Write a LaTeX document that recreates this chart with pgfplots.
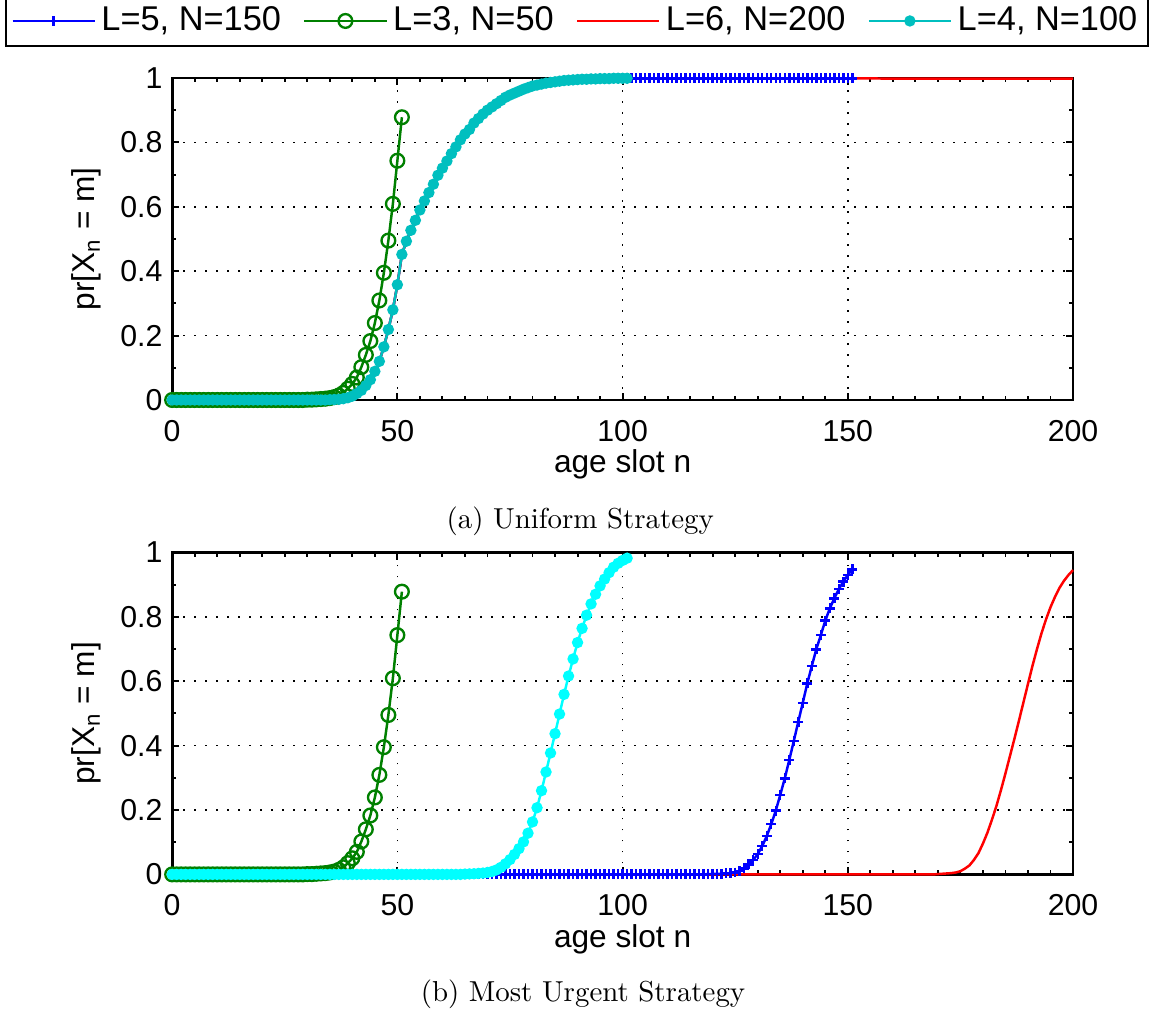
\documentclass[border=0pt]{standalone}
\usepackage{fontspec}
\setmainfont{Liberation Sans}
\newfontfamily\lmroman{Latin Modern Roman}
\usepackage{pgfplots}
\usepackage{pgfplotstable}
\pgfplotsset{compat=1.18}
\definecolor{mblue}{rgb}{0,0,1}
\definecolor{mgreen}{rgb}{0,0.5,0}
\definecolor{mred}{rgb}{1,0,0}
\definecolor{mteal}{rgb}{0,0.75,0.75}
\definecolor{mcyan}{rgb}{0,1,1}

% Uniform strategy, L>=4 curve (L=4,5,6 coincide)
\pgfplotstableread[row sep=\\]{
n p\\
0 0\\1 0\\2 0\\3 0\\4 0\\5 0\\6 0\\7 0\\8 0\\9 0\\10 0\\11 0\\12 0\\13 0\\14 0\\15 0\\16 0\\17 0\\18 0\\19 0\\20 0\\
21 0\\22 0\\23 0\\24 0\\25 0\\26 0\\27 0\\28 0\\29 0\\30 0\\31 0\\32 0\\33 0\\34 0\\35 0.001\\36 0.0015\\37 0.002\\38 0.004\\39 0.007\\40 0.012\\
41 0.02\\42 0.03\\43 0.045\\44 0.063\\45 0.089\\46 0.12\\47 0.165\\48 0.219\\49 0.28\\50 0.358\\51 0.452\\52 0.493\\53 0.527\\54 0.558\\55 0.59\\
56 0.618\\57 0.644\\58 0.67\\59 0.698\\60 0.72\\61 0.742\\62 0.765\\63 0.786\\64 0.808\\65 0.826\\66 0.84\\67 0.86\\68 0.874\\69 0.888\\70 0.9\\
71 0.91\\72 0.92\\73 0.93\\74 0.94\\75 0.947\\76 0.953\\77 0.959\\78 0.965\\79 0.97\\80 0.975\\81 0.978\\82 0.981\\83 0.984\\84 0.986\\85 0.988\\
86 0.99\\87 0.992\\88 0.993\\89 0.994\\90 0.995\\91 0.996\\92 0.996\\93 0.997\\94 0.997\\95 0.998\\96 0.998\\97 0.998\\98 0.999\\99 0.999\\100 0.999\\
101 0.999\\102 0.999\\103 0.999\\104 0.999\\105 0.999\\106 0.999\\107 0.999\\108 0.999\\109 0.999\\110 0.999\\111 0.999\\112 0.999\\113 0.999\\114 0.999\\115 0.999\\
116 0.999\\117 0.999\\118 0.999\\119 0.999\\120 0.999\\121 0.999\\122 0.999\\123 0.999\\124 0.999\\125 0.999\\126 0.999\\127 0.999\\128 0.999\\129 0.999\\130 0.999\\
131 0.999\\132 0.999\\133 0.999\\134 0.999\\135 0.999\\136 0.999\\137 0.999\\138 0.999\\139 0.999\\140 0.999\\141 0.999\\142 0.999\\143 0.999\\144 0.999\\145 0.999\\
146 0.999\\147 0.999\\148 0.999\\149 0.999\\150 0.999\\151 0.999\\160 0.998\\170 0.998\\180 0.998\\190 0.998\\200 0.998\\
}\uniformtab

% L=3, N=50 (same in both strategies)
\pgfplotstableread[row sep=\\]{
n p\\
0 0\\1 0\\2 0\\3 0\\4 0\\5 0\\6 0\\7 0\\8 0\\9 0\\10 0\\11 0\\12 0\\13 0\\14 0\\15 0\\16 0\\17 0\\18 0\\19 0\\20 0\\
21 0\\22 0\\23 0\\24 0\\25 0\\26 0\\27 0\\28 0\\29 0\\30 0.001\\31 0.001\\32 0.002\\33 0.003\\34 0.004\\35 0.006\\36 0.009\\37 0.014\\38 0.022\\39 0.035\\40 0.05\\
41 0.07\\42 0.102\\43 0.14\\44 0.183\\45 0.239\\46 0.309\\47 0.395\\48 0.495\\49 0.609\\50 0.743\\51 0.878\\
}\greentab

% Most urgent, L=4, N=100
\pgfplotstableread[row sep=\\]{
n p\\
0 0\\1 0\\2 0\\3 0\\4 0\\5 0\\6 0\\7 0\\8 0\\9 0\\10 0\\11 0\\12 0\\13 0\\14 0\\15 0\\16 0\\17 0\\18 0\\19 0\\20 0\\
21 0\\22 0\\23 0\\24 0\\25 0\\26 0\\27 0\\28 0\\29 0\\30 0\\31 0\\32 0\\33 0\\34 0\\35 0\\36 0\\37 0\\38 0\\39 0\\40 0\\
41 0\\42 0\\43 0\\44 0\\45 0\\46 0\\47 0\\48 0\\49 0\\50 0\\51 0\\52 0\\53 0\\54 0\\55 0\\56 0\\57 0\\58 0\\59 0\\60 0\\
61 0\\62 0\\63 0\\64 0\\65 0.001\\66 0.0015\\67 0.002\\68 0.003\\69 0.004\\70 0.006\\71 0.009\\72 0.014\\73 0.022\\74 0.033\\75 0.046\\
76 0.062\\77 0.08\\78 0.101\\79 0.128\\80 0.163\\81 0.207\\82 0.26\\83 0.318\\84 0.377\\85 0.437\\86 0.498\\87 0.559\\88 0.616\\89 0.669\\90 0.72\\
91 0.764\\92 0.805\\93 0.84\\94 0.87\\95 0.896\\96 0.917\\97 0.937\\98 0.954\\99 0.966\\100 0.975\\101 0.982\\
}\mucyantab

% Most urgent, L=5, N=150
\pgfplotstableread[row sep=\\]{
n p\\
0 0\\1 0\\2 0\\3 0\\4 0\\5 0\\6 0\\7 0\\8 0\\9 0\\10 0\\11 0\\12 0\\13 0\\14 0\\15 0\\16 0\\17 0\\18 0\\19 0\\20 0\\
21 0\\22 0\\23 0\\24 0\\25 0\\26 0\\27 0\\28 0\\29 0\\30 0\\31 0\\32 0\\33 0\\34 0\\35 0\\36 0\\37 0\\38 0\\39 0\\40 0\\
41 0\\42 0\\43 0\\44 0\\45 0\\46 0\\47 0\\48 0\\49 0\\50 0\\51 0\\52 0\\53 0\\54 0\\55 0\\56 0\\57 0\\58 0\\59 0\\60 0\\
61 0\\62 0\\63 0\\64 0\\65 0\\66 0\\67 0\\68 0\\69 0\\70 0\\71 0\\72 0\\73 0\\74 0\\75 0\\76 0\\77 0\\78 0\\79 0\\80 0\\
81 0\\82 0\\83 0\\84 0\\85 0\\86 0\\87 0\\88 0\\89 0\\90 0\\91 0\\92 0\\93 0\\94 0\\95 0\\96 0\\97 0\\98 0\\99 0\\100 0\\
101 0\\102 0\\103 0\\104 0\\105 0\\106 0\\107 0\\108 0\\109 0\\110 0\\111 0\\112 0\\113 0\\114 0\\115 0\\116 0\\117 0\\118 0\\119 0.001\\120 0.001\\
121 0.002\\122 0.002\\123 0.003\\124 0.004\\125 0.006\\126 0.011\\127 0.019\\128 0.031\\129 0.045\\130 0.063\\131 0.088\\132 0.119\\133 0.156\\134 0.198\\135 0.247\\
136 0.298\\137 0.355\\138 0.414\\139 0.474\\140 0.533\\141 0.593\\142 0.647\\143 0.699\\144 0.743\\145 0.788\\146 0.826\\147 0.857\\148 0.886\\149 0.909\\150 0.93\\151 0.947\\
}\mubluetab

% Most urgent, L=6, N=200
\pgfplotstableread[row sep=\\]{
n p\\
0 0\\100 0\\169 0\\170 0.001\\171 0.002\\172 0.003\\173 0.004\\174 0.006\\175 0.01\\176 0.018\\177 0.028\\178 0.045\\179 0.066\\180 0.096\\
181 0.13\\182 0.17\\183 0.213\\184 0.262\\185 0.314\\186 0.368\\187 0.422\\188 0.478\\189 0.535\\190 0.592\\
191 0.648\\192 0.7\\193 0.749\\194 0.792\\195 0.83\\196 0.862\\197 0.89\\198 0.912\\199 0.93\\200 0.945\\
}\muredtab

\pgfplotsset{
  mystyle/.style={
    scale only axis, width=327.6pt, height=117.1pt,
    xmin=0, xmax=200, ymin=0, ymax=1,
    xtick={0,50,100,150,200}, ytick={0,0.2,0.4,0.6,0.8,1},
    minor x tick num=9, minor y tick num=1,
    tick align=inside, major tick length=2.6pt, minor tick length=1.5pt,
    grid=major,
    major grid style={black, line width=0.6pt, dash pattern=on 0.6pt off 3.4pt},
    axis line style={line width=1pt},
    every tick/.style={black, line width=0.7pt},
    tick label style={font=\fontsize{11}{13}\selectfont},
    xticklabel style={yshift=-3.8pt},
    label style={font=\fontsize{11.5}{13}\selectfont},
    xlabel style={yshift=3.8pt},
    /pgf/number format/assume math mode=true,
    xlabel={age slot n},
    ylabel={pr[X\textsubscript{n} = m]},
    clip=false,
  },
  bl/.style={mblue, line width=0.9pt, mark=+, mark size=1.8pt, mark options={solid, line width=0.9pt}},
  gr/.style={mgreen, line width=0.9pt, mark=o, mark size=2.5pt, mark options={solid, line width=0.85pt}},
  rd/.style={mred, line width=0.9pt, no markers},
}

\begin{document}
\begin{tikzpicture}
\path[use as bounding box] (0,0) rectangle (420pt,-366.55pt);

\begin{axis}[mystyle, at={(62.6pt,-145.45pt)}, anchor=south west,
  legend columns=4,
  legend style={at={(0.4495,1.177)}, anchor=center, draw=black, line width=0.8pt,
    font=\fontsize{12.5}{14}\selectfont, inner sep=2pt,
    /tikz/every even column/.append style={column sep=6pt}},
  legend image code/.code={\draw[mark repeat=2, mark phase=2, #1] plot coordinates {(0cm,0cm) (0.525cm,0cm) (1.05cm,0cm)};},
]
\addplot[bl, restrict x to domain=0:151] table[x=n, y=p] {\uniformtab};
\addlegendentry{L=5, N=150}
\addplot[gr] table[x=n, y=p] {\greentab};
\addlegendentry{L=3, N=50}
\addplot[rd] table[x=n, y=p] {\uniformtab};
\addlegendentry{L=6, N=200}
\addplot[mteal, line width=0.9pt, mark=*, mark size=1.6pt, mark options={solid, fill=mteal, draw=mteal}, restrict x to domain=0:101] table[x=n, y=p] {\uniformtab};
\addlegendentry{L=4, N=100}
\end{axis}

\begin{axis}[mystyle, at={(62.6pt,-317.96pt)}, anchor=south west]
\addplot[bl] table[x=n, y=p] {\mubluetab};
\addplot[gr] table[x=n, y=p] {\greentab};
\addplot[rd] table[x=n, y=p] {\muredtab};
\addplot[mcyan, line width=0.9pt, mark=*, mark size=1.6pt, mark options={solid, fill=mcyan, draw=mcyan}] table[x=n, y=p] {\mucyantab};
\end{axis}

\node[anchor=base, font=\lmroman\fontsize{10.5}{12}\selectfont] at (211pt,-192pt) {(a) Uniform Strategy};
\node[anchor=base, font=\lmroman\fontsize{10.5}{12}\selectfont] at (212pt,-364pt) {(b) Most Urgent Strategy};
\end{tikzpicture}
\end{document}
